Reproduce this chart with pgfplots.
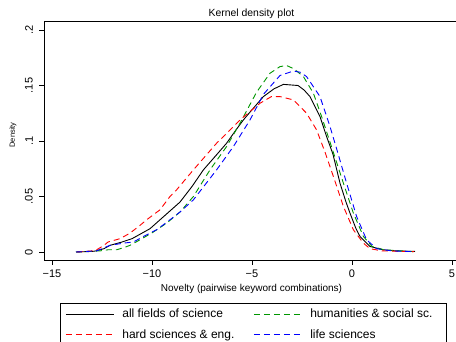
\documentclass[border=0pt]{standalone}
\usepackage{fontspec}
\setmainfont{Liberation Sans}
\usepackage{pgfplots}
\pgfplotsset{compat=1.18}
\definecolor{sred}{RGB}{255,0,0}
\definecolor{sgreen}{RGB}{0,150,0}
\definecolor{sblue}{RGB}{0,0,255}
\begin{document}
\begin{tikzpicture}[x=1pt,y=1pt]
\begin{axis}[
  at={(0pt,0pt)}, anchor=south west,
  scale only axis, width=415pt, height=239pt,
  xmin=-15.4, xmax=5.35, ymin=-0.0072, ymax=0.2081,
  axis line style={line width=0.9pt},
  xtick={-15,-10,-5,0,5},
  xticklabels={−15,−10,−5,0,5},
  ytick={0,0.05,0.1,0.15,0.2},
  yticklabels={0,.05,.1,.15,.2},
  tick pos=left,
  tick align=outside,
  major tick length=5pt,
  tick style={line width=0.8pt, black},
  /pgf/number format/assume math mode=true,
  ticklabel style={font=\fontsize{11}{13}\selectfont},
  xticklabel style={anchor=north, inner sep=0pt, yshift=-5pt},
  yticklabel style={xshift=-6pt, rotate=90, anchor=south, inner sep=0pt},
  title={Kernel density plot},
  title style={at={(axis description cs:0.5,1)}, anchor=base, yshift=-1.5pt, font=\fontsize{10.4}{12}\selectfont, inner sep=0pt},
  xlabel={Novelty (pairwise keyword combinations)},
  xlabel style={at={(axis description cs:0.5,0)}, anchor=base, yshift=-32pt, font=\fontsize{10}{12}\selectfont, inner sep=0pt},
  ylabel={Density},
  ylabel style={at={(axis description cs:-0.0747,0.523)}, anchor=center, font=\fontsize{7.5}{9}\selectfont, inner sep=0pt},
  legend columns=2,
  legend cell align=left,
  legend image code/.code={\draw[#1] (0pt,0pt) -- (48pt,0pt);},
  legend style={
    at={(axis description cs:0.03735,-0.1787)}, anchor=north west,
    draw=black, line width=0.9pt,
    font=\fontsize{12}{14}\selectfont,
    inner xsep=5.5pt, inner ysep=6pt,
    nodes={inner sep=0pt},
    row sep=10pt,
    /tikz/every odd column/.append style={column sep=8pt},
    /tikz/every even column/.append style={column sep=19pt},
  },
]
\addplot[black, line width=0.9pt] table {
-13.8 0
-13.0 0.0005
-12.8 0.001
-12.4 0.003
-12.1 0.006
-11.5 0.009
-11.0 0.012
-10.6 0.016
-10.1 0.021
-9.6 0.029
-9.1 0.037
-8.6 0.045
-8.0 0.059
-7.43 0.074
-6.8 0.087
-6.27 0.098
-5.8 0.110
-5.43 0.119
-5.1 0.126
-4.43 0.140
-3.9 0.147
-3.43 0.151
-2.7 0.150
-2.4 0.146
-2.1 0.140
-1.6 0.122
-1.27 0.104
-0.95 0.088
-0.6 0.062
-0.3 0.045
-0.1 0.035
0.2 0.021
0.4 0.014
0.9 0.005
1.55 0.002
2.2 0.001
3.15 0.0005
};
\addlegendentry{all fields of science}
\addplot[sgreen, line width=0.9pt, dash pattern=on 6pt off 4pt] table {
-13.8 0
-12.6 0.001
-12.2 0.002
-11.77 0.002
-11.4 0.004
-11.1 0.006
-10.6 0.011
-9.93 0.018
-9.27 0.026
-8.6 0.036
-7.93 0.050
-7.1 0.074
-6.27 0.095
-5.6 0.116
-4.77 0.144
-4.1 0.161
-3.6 0.167
-3.27 0.168
-2.9 0.165
-2.43 0.158
-1.93 0.143
-1.52 0.122
-1.1 0.099
-0.43 0.062
0.07 0.035
0.57 0.014
1.0 0.005
1.6 0.002
3.1 0.0003
};
\addlegendentry{\makebox[131pt][l]{humanities \& social sc.}}
\addplot[sred, line width=0.9pt, dash pattern=on 6pt off 4pt] table {
-13.77 0
-13.0 0.001
-12.77 0.002
-12.4 0.006
-12.2 0.009
-11.6 0.012
-11.1 0.017
-10.6 0.024
-10.27 0.029
-9.6 0.038
-9.1 0.050
-8.77 0.056
-7.93 0.074
-6.77 0.098
-6.2 0.108
-5.6 0.119
-4.6 0.134
-4.03 0.140
-3.6 0.140
-2.93 0.137
-2.27 0.125
-1.77 0.110
-1.35 0.090
-0.93 0.068
-0.43 0.041
0.07 0.020
0.57 0.008
0.9 0.003
1.5 0.001
3.1 0.0003
};
\addlegendentry{hard sciences \& eng.}
\addplot[sblue, line width=0.9pt, dash pattern=on 6pt off 4pt] table {
-13.8 0
-12.77 0.001
-12.1 0.006
-11.43 0.008
-10.93 0.009
-10.43 0.014
-9.77 0.020
-9.1 0.029
-8.6 0.036
-7.93 0.047
-6.77 0.074
-5.93 0.095
-5.1 0.119
-4.43 0.142
-3.6 0.159
-2.93 0.163
-2.6 0.162
-2.27 0.158
-1.6 0.140
-1.1 0.113
-0.72 0.090
-0.27 0.062
0.23 0.032
0.73 0.011
1.23 0.003
2.0 0.001
3.1 0.0003
};
\addlegendentry{life sciences}
\end{axis}
\pgfresetboundingbox
\useasboundingbox (-44,-82) rectangle (412,260);
\end{tikzpicture}
\end{document}
